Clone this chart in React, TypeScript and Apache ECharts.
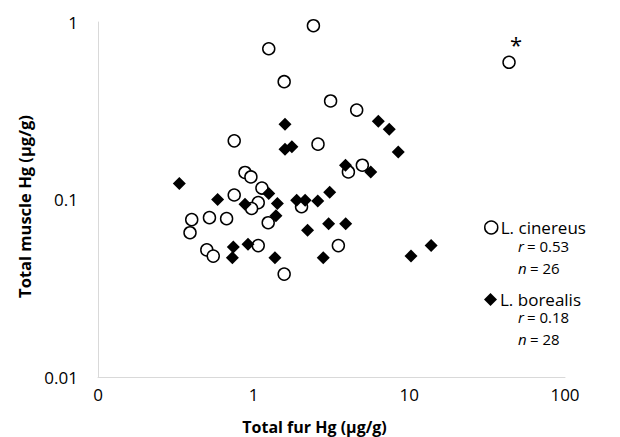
import React, { useEffect, useRef } from "react";
import * as echarts from "echarts";

// L. cinereus (open circles); last point is the outlier marked with "*"
const cinereusFur = [2.42, 1.25, 1.57, 3.12, 4.59, 0.75, 2.59, 0.88, 0.96, 1.13, 0.75, 1.07, 0.97, 0.40, 0.52, 0.67, 0.39, 0.50, 0.55, 1.07, 1.24, 1.57, 2.03, 4.06, 4.99, 3.50, 43.7];
const cinereusMuscle = [0.953, 0.707, 0.461, 0.359, 0.319, 0.214, 0.205, 0.142, 0.134, 0.116, 0.106, 0.096, 0.089, 0.077, 0.079, 0.078, 0.065, 0.052, 0.048, 0.055, 0.074, 0.038, 0.091, 0.143, 0.156, 0.055, 0.593];
const outlierIndex = 26;

// L. borealis (filled diamonds)
const borealisFur = [0.333, 0.587, 0.88, 1.25, 1.42, 1.39, 0.74, 0.92, 0.73, 1.37, 1.59, 1.59, 1.76, 1.89, 2.14, 2.58, 3.08, 2.22, 3.03, 3.90, 2.80, 3.89, 5.65, 6.32, 7.43, 8.49, 10.25, 13.8];
const borealisMuscle = [0.123, 0.100, 0.094, 0.108, 0.095, 0.081, 0.054, 0.056, 0.047, 0.047, 0.265, 0.192, 0.198, 0.099, 0.099, 0.098, 0.110, 0.067, 0.073, 0.073, 0.047, 0.156, 0.143, 0.276, 0.249, 0.185, 0.048, 0.055];

const xTickLabels = ["0", "1", "10", "100"];
const yTickLabels = ["0.01", "0.1", "1"];

const seriesNames = ["L. cinereus", "L. borealis"];
const statsR = ["0.53", "0.18"];
const statsN = ["26", "28"];

const FONT = "'Open Sans', 'Liberation Sans', sans-serif";

export default function App() {
  const ref = useRef<HTMLDivElement>(null);
  useEffect(() => {
    document.body.style.margin = "0";
    const chart = echarts.init(ref.current!, null, { renderer: "svg" });
    const cinData = cinereusFur.map((x, i) => {
      const item: any = { value: [x, cinereusMuscle[i]] };
      if (i === outlierIndex) {
        item.label = {
          show: true,
          formatter: "*",
          position: "top",
          offset: [7, 4],
          fontSize: 22,
          fontFamily: FONT,
          color: "#000",
        };
      }
      return item;
    });
    const borData = borealisFur.map((x, i) => [x, borealisMuscle[i]]);
    const statStyle = { fontSize: 15, fontFamily: FONT, fill: "#000" };
    const statText = (r: string, n: string, y: number) => [
      { type: "text", left: 518, top: y, style: { ...statStyle, text: "r", fontStyle: "italic" } },
      { type: "text", left: 527, top: y, style: { ...statStyle, text: "= " + r } },
      { type: "text", left: 518, top: y + 22, style: { ...statStyle, text: "n", fontStyle: "italic" } },
      { type: "text", left: 530, top: y + 22, style: { ...statStyle, text: "= " + n } },
    ];
    chart.setOption({
      animation: false,
      grid: { left: 98, top: 22, right: 55, bottom: 60, containLabel: false, outerBoundsMode: "none" },
      xAxis: {
        type: "log",
        logBase: 10,
        min: 0.1,
        max: 100,
        name: "Total fur Hg (µg/g)",
        nameLocation: "middle",
        nameGap: 42,
        nameTextStyle: { fontSize: 16, fontWeight: "bold", fontFamily: FONT, color: "#000", padding: [0, 34, 0, 0] },
        axisLine: { show: true, lineStyle: { color: "#d9d9d9", width: 1 } },
        axisTick: { show: false },
        splitLine: { show: false },
        minorTick: { show: false },
        axisLabel: {
          fontSize: 17,
          fontFamily: FONT,
          color: "#000",
          margin: 9,
          formatter: (_v: number, i: number) => xTickLabels[i] ?? "",
        },
      },
      yAxis: {
        type: "log",
        logBase: 10,
        min: 0.01,
        max: 1,
        name: "Total muscle Hg (µg/g)",
        nameLocation: "middle",
        nameGap: 63,
        nameTextStyle: { fontSize: 16.5, fontWeight: "bold", fontFamily: FONT, color: "#000", padding: [0, 14, 0, 0] },
        axisLine: { show: true, lineStyle: { color: "#d9d9d9", width: 1 } },
        axisTick: { show: false },
        splitLine: { show: false },
        axisLabel: {
          fontSize: 17,
          fontFamily: FONT,
          color: "#000",
          margin: 20,
          formatter: (_v: number, i: number) => yTickLabels[i] ?? "",
        },
      },
      legend: [
        {
          data: [{ name: seriesNames[0], icon: "circle", itemStyle: { color: "#fff", borderColor: "#000", borderWidth: 1.5 } }],
          left: 484,
          top: 219,
          padding: 0,
          itemWidth: 13,
          itemHeight: 13,
          itemGap: 0,
          textStyle: { fontSize: 17, fontFamily: FONT, color: "#000", padding: [0, 0, 0, -2] },
          selectedMode: false,
        },
        {
          data: [{ name: seriesNames[1], icon: "diamond", itemStyle: { color: "#000" } }],
          left: 484,
          top: 291,
          padding: 0,
          itemWidth: 13,
          itemHeight: 13,
          itemGap: 0,
          textStyle: { fontSize: 17, fontFamily: FONT, color: "#000", padding: [0, 0, 0, -2] },
          selectedMode: false,
        },
      ],
      graphic: [...statText(statsR[0], statsN[0], 238), ...statText(statsR[1], statsN[1], 309)],
      series: [
        {
          name: seriesNames[0],
          type: "scatter",
          symbol: "circle",
          symbolSize: 12,
          itemStyle: { color: "#fff", borderColor: "#000", borderWidth: 1.5, opacity: 1 },
          data: cinData,
          z: 2,
        },
        {
          name: seriesNames[1],
          type: "scatter",
          symbol: "diamond",
          symbolSize: 13,
          itemStyle: { color: "#000", opacity: 1 },
          data: borData,
          z: 3,
        },
      ],
    });
    return () => chart.dispose();
  }, []);
  return <div ref={ref} style={{ width: 620, height: 437 }} />;
}
